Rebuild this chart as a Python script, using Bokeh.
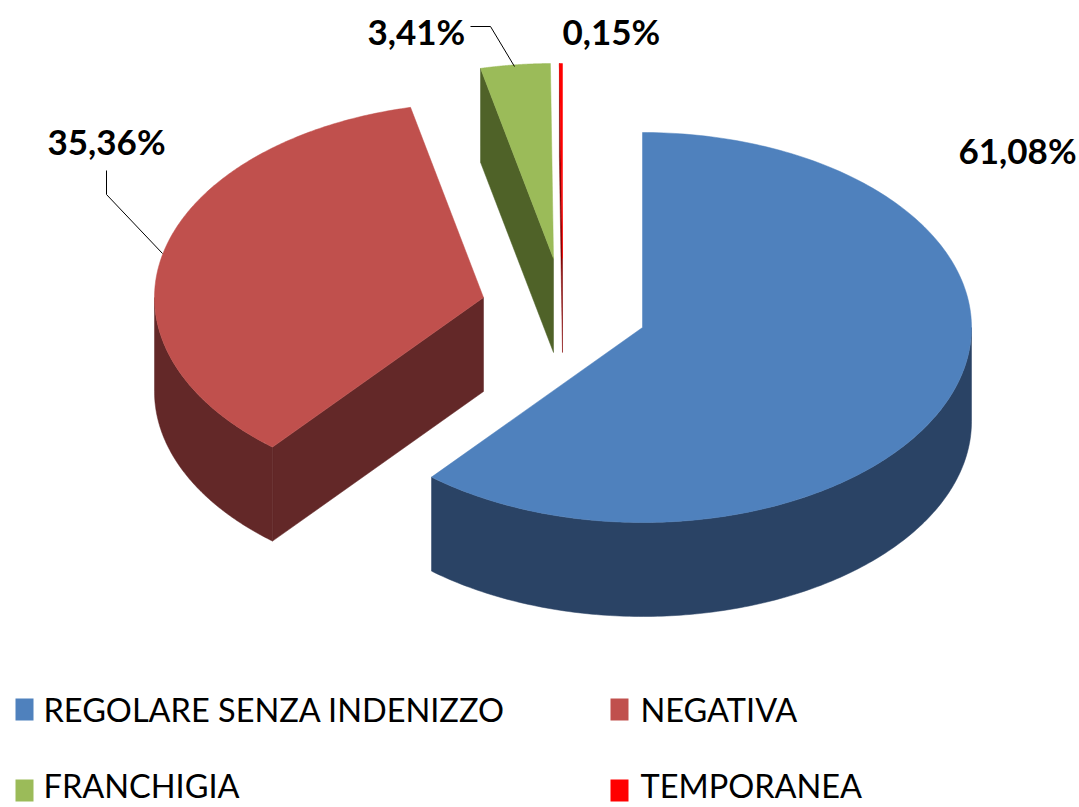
import numpy as np
from bokeh.plotting import figure
from bokeh.models import Range1d
from bokeh.core.properties import value
from bokeh.embed import file_html
from bokeh.resources import INLINE

categories = ["REGOLARE SENZA INDENIZZO", "NEGATIVA", "FRANCHIGIA", "TEMPORANEA"]
shares = [61.08, 35.36, 3.41, 0.15]
share_labels = ["61,08%", "35,36%", "3,41%", "0,15%"]
top_colors = ["#4F81BD", "#C0504D", "#9BBB59", "#FF0000"]
side_colors = ["#2A4365", "#632828", "#4F6228", "#800000"]

# Layout in page pixels
RX, RY, DEPTH = 329, 195, 94
centers = [(642, 327), (483, 297), (553, 258), (562, 258)]
label_pos = [(958, 149), (47, 140), (367, 30), (562, 30)]
legend_pos = [(15, 709), (610, 709), (15, 790), (610, 790)]
legend_text_x = [43, 640, 43, 640]
legend_text_y = [709, 709, 785, 785]
leaders = [([470, 490, 514], [26, 26, 66]), ([106, 106, 162], [170, 194, 253])]

p = figure(width=1079, height=807, output_backend="svg", toolbar_location=None,
           x_range=Range1d(0, 1079), y_range=Range1d(807, 0), min_border=0)
p.axis.visible = False
p.grid.visible = False
p.outline_line_color = None
p.background_fill_color = "white"


def rim(cx, cy, th):
    return cx + RX * np.sin(th), cy - RY * np.cos(th)


start = 0.0
sx, sy, sc = [], [], []
tx, ty, tc = [], [], []
for share, (cx, cy), top, side in zip(shares, centers, top_colors, side_colors):
    end = start + share / 100 * 2 * np.pi
    for edge in (start, end):
        ex, ey = rim(cx, cy, edge)
        if (edge == start and np.sin(edge) < -1e-6) or (edge == end and np.sin(edge) > 1e-6):
            sx.append([cx, ex, ex, cx])
            sy.append([cy, ey, ey + DEPTH, cy + DEPTH])
            sc.append(side)
    a, b = max(start, np.pi / 2), min(end, 3 * np.pi / 2)
    if b > a:
        th = np.linspace(a, b, 160)
        wx, wy = rim(cx, cy, th)
        sx.append(list(wx) + list(wx[::-1]))
        sy.append(list(wy) + list(wy[::-1] + DEPTH))
        sc.append(side)
    th = np.linspace(start, end, 240)
    fx, fy = rim(cx, cy, th)
    tx.append([cx] + list(fx))
    ty.append([cy] + list(fy))
    tc.append(top)
    start = end

p.patches(sx, sy, fill_color=sc, line_color=sc, line_width=0.5)
p.patches(tx, ty, fill_color=tc, line_color=tc, line_width=0.5)

for lx, ly in leaders:
    p.line(lx, ly, line_color="black", line_width=1)

p.text(x=[q[0] for q in label_pos], y=[q[1] for q in label_pos], text=share_labels,
       text_font=value("Lato"), text_font_style="bold", text_font_size="35px",
       text_color="black", text_baseline="middle", text_align="left")

p.rect(x=[q[0] + 9 for q in legend_pos], y=[q[1] for q in legend_pos], width=18, height=22,
       fill_color=top_colors, line_color=None)
p.text(x=legend_text_x, y=legend_text_y, text=categories,
       text_font=value("Lato"), text_font_size="32.5px", text_color="black",
       text_baseline="middle", text_align="left")

open("out.html", "w").write(file_html(p, INLINE))
